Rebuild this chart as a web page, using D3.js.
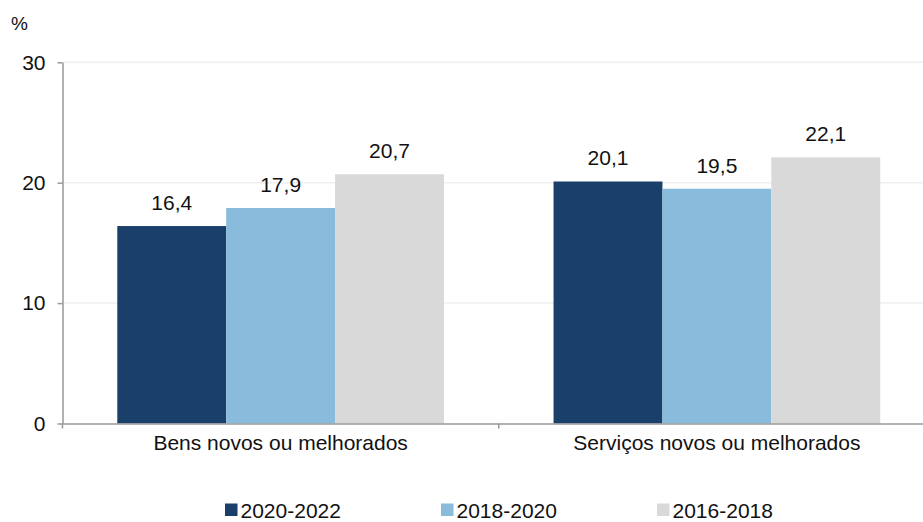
<!DOCTYPE html>
<html>
<head>
<meta charset="utf-8">
<script src="https://cdn.jsdelivr.net/npm/d3@7"></script>
<style>
  html, body { margin: 0; padding: 0; background: #ffffff; }
  svg { display: block; }
  text { font-family: "Liberation Sans", Arial, sans-serif; fill: #111; }
</style>
</head>
<body>
<svg id="chart" width="923" height="522"></svg>
<script>
const categories = ["Bens novos ou melhorados", "Serviços novos ou melhorados"];
const seriesNames = ["2020-2022", "2018-2020", "2016-2018"];
const values2020_2022 = [16.4, 20.1];
const values2018_2020 = [17.9, 19.5];
const values2016_2018 = [20.7, 22.1];
const yTicks = [0, 10, 20, 30];
const colors = ["#1a3f6b", "#89bbdc", "#d9d9d9"];

(function () {
const seriesValues = [values2020_2022, values2018_2020, values2016_2018];
const data = categories.map((c, i) => ({
  category: c,
  values: seriesNames.map((s, j) => ({ series: s, value: seriesValues[j][i] }))
}));

const svg = d3.select("#chart");
const mLeft = 62.5, mTop = 62.3, mBottom = 423.5, bandRight = 935, gridRight = 923;
const fmt = v => d3.format(".1f")(v).replace(".", ",");

const y = d3.scaleLinear().domain([0, 30]).range([mBottom, mTop]);
const x0 = d3.scaleBand().domain(categories).range([mLeft, bandRight]).padding(0);
const pad = x0.bandwidth() * 0.1256;
const x1 = d3.scaleBand().domain(seriesNames).range([pad, x0.bandwidth() - pad]).padding(0);
const color = d3.scaleOrdinal().domain(seriesNames).range(colors);

// gridlines
svg.append("g").selectAll("line").data(yTicks.filter(t => t > 0)).join("line")
  .attr("x1", mLeft).attr("x2", gridRight)
  .attr("y1", d => y(d)).attr("y2", d => y(d))
  .attr("stroke", "#efefef").attr("stroke-width", 1.5);

// bars
const groups = svg.append("g").selectAll("g").data(data).join("g")
  .attr("transform", d => `translate(${x0(d.category)},0)`);
groups.selectAll("rect").data(d => d.values).join("rect")
  .attr("x", d => x1(d.series))
  .attr("width", x1.bandwidth())
  .attr("y", d => y(d.value))
  .attr("height", d => y(0) - y(d.value))
  .attr("fill", d => color(d.series));
groups.selectAll("text").data(d => d.values).join("text")
  .attr("x", d => x1(d.series) + x1.bandwidth() / 2)
  .attr("y", d => y(d.value) - 16)
  .attr("text-anchor", "middle")
  .attr("font-size", 21)
  .text(d => fmt(d.value));

// y axis
const yAxis = d3.axisLeft(y).tickValues(yTicks).tickSize(5).tickPadding(12).tickSizeOuter(0);
const gy = svg.append("g").attr("transform", `translate(${mLeft},0)`).call(yAxis);
gy.select(".domain").attr("stroke", "#999").attr("stroke-width", 1.5);
gy.selectAll(".tick line").attr("stroke", "#999").attr("stroke-width", 1.5);
gy.selectAll(".tick text").attr("font-size", 21).attr("font-family", "Liberation Sans, Arial, sans-serif").attr("fill", "#111");

// x axis
const xAxis = d3.axisBottom(x0).tickSize(0).tickPadding(12).tickSizeOuter(0);
const gx = svg.append("g").attr("transform", `translate(0,${mBottom})`).call(xAxis);
gx.select(".domain").attr("stroke", "#999").attr("stroke-width", 1.5);
gx.selectAll(".tick text").attr("font-size", 21).attr("font-family", "Liberation Sans, Arial, sans-serif").attr("fill", "#111").attr("dy", "0.71em");
const boundaries = categories.map(c => x0(c)).concat([x0(categories[categories.length - 1]) + x0.bandwidth()]);
gx.append("g").selectAll("line").data(boundaries).join("line")
  .attr("x1", d => d).attr("x2", d => d).attr("y1", 0).attr("y2", 5)
  .attr("stroke", "#999").attr("stroke-width", 1.5);

// % unit label
svg.append("text").attr("x", 11).attr("y", 30).attr("font-size", 19).text("%");

// legend
const legend = svg.append("g").selectAll("g").data(seriesNames).join("g")
  .attr("transform", (d, i) => `translate(${225 + i * 216},0)`);
legend.append("rect").attr("x", 0).attr("y", 503.5).attr("width", 12.5).attr("height", 12.5)
  .attr("fill", d => color(d));
legend.append("text").attr("x", 15.5).attr("y", 517.5).attr("font-size", 21).text(d => d);
})();
</script>
</body>
</html>
